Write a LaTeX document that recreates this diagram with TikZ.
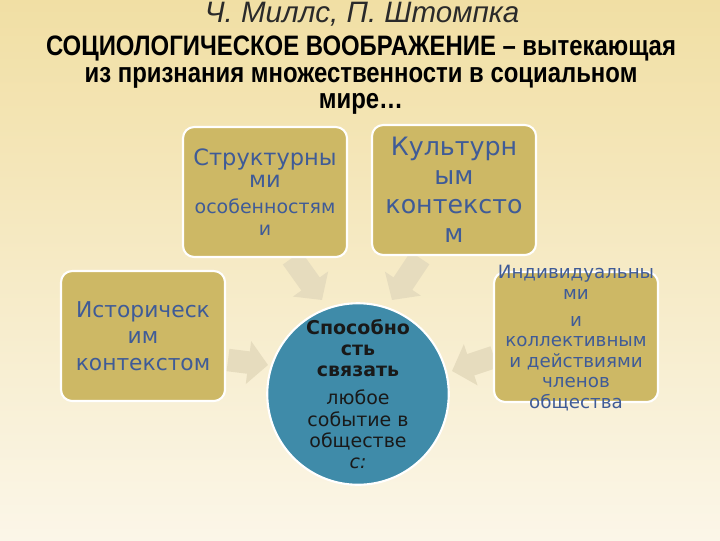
\documentclass[tikz,border=0pt]{standalone}
\usepackage{fontspec}
\setmainfont{DejaVu Sans}
\newfontfamily\titlefont{Liberation Sans}
\newfontfamily\headfont[FakeStretch=0.85]{Liberation Sans}
\usetikzlibrary{arrows.meta,positioning}

\definecolor{bgtop}{HTML}{F1DFA4}
\definecolor{bgbot}{HTML}{FBF6E8}
\definecolor{boxgold}{HTML}{CDB865}
\definecolor{boxtext}{HTML}{3F5B97}
\definecolor{corefill}{HTML}{3F8BA9}
\definecolor{arrowfill}{HTML}{E6DCBE}
\definecolor{titlegrey}{HTML}{2A2A2A}

\tikzset{
  goldbox/.style={draw=white, line width=1.5pt, fill=boxgold, rounded corners=8pt,
    minimum width=4.1cm, minimum height=3.25cm, inner sep=0pt, align=center, text=boxtext},
  boxlabel/.style={inner sep=0pt, align=center, text=boxtext},
  corecirc/.style={circle, draw=white, line width=1.5pt, fill=corefill,
    minimum size=4.4cm, inner sep=0pt, align=center, text=black!90},
  fadearrow/.style={draw=arrowfill, line width=16pt, -{Triangle[width=30pt,length=14pt]}},
  headline/.style={anchor=base, font=\headfont\bfseries\fontsize{20}{22}\selectfont},
}

\begin{document}
\begin{tikzpicture}[x=0.025cm, y=-0.025cm]
    \shade[top color=bgtop, bottom color=bgbot] (0,0) rectangle (720,540);
    \useasboundingbox (0,0) rectangle (720,540);

    % title
    \node[anchor=base, text=titlegrey, font=\titlefont\itshape\fontsize{21}{24}\selectfont] (authors) at (362,22) {Ч. Миллс, П. Штомпка};
    \node[headline] (head1) at (361,55) {СОЦИОЛОГИЧЕСКОЕ ВООБРАЖЕНИЕ – вытекающая};
    \node[headline] (head2) at (361,82) {из признания множественности в социальном};
    \node[headline] (head3) at (361,108) {мире…};

    % faded arrows
    \coordinate (structend) at (292,258);
    \coordinate (structtip) at (322,300);
    \coordinate (cultend) at (420,258);
    \coordinate (culttip) at (392,300);
    \coordinate (histend) at (228,360);
    \coordinate (histtip) at (268,365);
    \coordinate (indivend) at (494,357);
    \coordinate (indivtip) at (452,371);

    \draw[fadearrow] (structend) -- (structtip);
    \draw[fadearrow] (cultend) -- (culttip);
    \draw[fadearrow] (histend) -- (histtip);
    \draw[fadearrow] (indivend) -- (indivtip);

    % boxes
    \node[goldbox, font=\fontsize{16}{15.5}\selectfont] (struct) at (265,192) {Структурны\\ми\\[3pt]
        \fontsize{13.5}{13}\selectfont особенностям\\\fontsize{13.5}{13}\selectfont и};
    \node[goldbox, font=\fontsize{18}{20.5}\selectfont] (cult) at (454,190) {Культурн\\ым\\контексто\\м};
    \node[goldbox, font=\fontsize{15.5}{19}\selectfont] (hist) at (143,336) {Историческ\\им\\контекстом};
    \node[goldbox] (indiv) at (576,337) {};
    \node[boxlabel, font=\fontsize{13}{14.5}\selectfont] (indivtext) at (576,338) {Индивидуальны\\ми\\[5pt]
        и\\коллективным\\и действиями\\членов\\общества};

    % centre
    \node[corecirc, font=\fontsize{13.5}{15}\selectfont] (core) at (358,394) {\bfseries Способно\\\bfseries сть\\\bfseries связать\\[5pt]
        любое\\событие в\\обществе\\\itshape с:};
\end{tikzpicture}
\end{document}
